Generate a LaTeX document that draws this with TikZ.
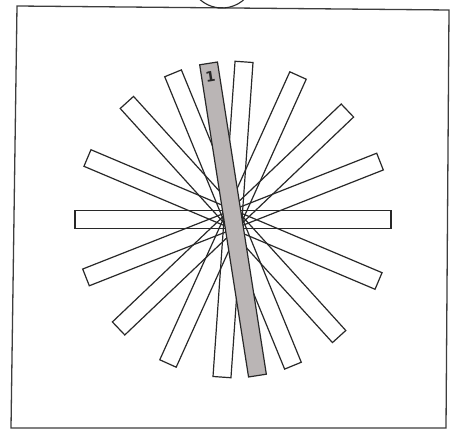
\documentclass[tikz,border=0pt]{standalone}
\usepackage{fontspec}
\setsansfont{DejaVu Sans}
\usetikzlibrary{calc}
\definecolor{inkc}{RGB}{40,40,40}
\definecolor{stripgray}{RGB}{186,181,181}
\tikzset{
  strip/.style={draw=inkc, line width=1.2pt, minimum width=316pt, minimum height=18pt, inner sep=0pt, outer sep=0pt, rectangle},
  graystrip/.style={strip, fill=stripgray},
  frameline/.style={draw=inkc!90, line width=1.3pt}
}
\begin{document}
\begin{tikzpicture}[x=1pt,y=1pt]
\useasboundingbox (0,0) rectangle (452,431);
\fill[white] (0,0) rectangle (452,431);
% frame
\coordinate (tl) at (17,425);
\coordinate (tr) at (449,421);
\coordinate (br) at (446,3);
\coordinate (bl) at (11,3);
\draw[frameline] (tl) -- (tr) -- (br) -- (bl) -- cycle;
% small arc at top
\coordinate (arcc) at (222,456);
\draw[inkc, line width=1.1pt] ($(arcc)+(222:33)$) arc[start angle=222, end angle=318, radius=33];
% white strips (outlines only)
\coordinate (c) at (233,211.5);
\node[strip, rotate=0]     (s1) at (c) {};
\node[strip, rotate=21.5]  (s2) at (c) {};
\node[strip, rotate=43.6]  (s3) at (c) {};
\node[strip, rotate=65.7]  (s4) at (c) {};
\node[strip, rotate=86]    (s5) at (c) {};
\node[strip, rotate=112.3] (s6) at (c) {};
\node[strip, rotate=132.2] (s7) at (c) {};
\node[strip, rotate=157.1] (s8) at (c) {};
% gray strip on top
\node[graystrip, rotate=98.9] (g) at (c) {};
\node[text=inkc, font=\sffamily\bfseries\fontsize{14}{14}\selectfont, rotate=9, inner sep=0pt] (lab) at (210.5,354) {1};
\end{tikzpicture}
\end{document}
